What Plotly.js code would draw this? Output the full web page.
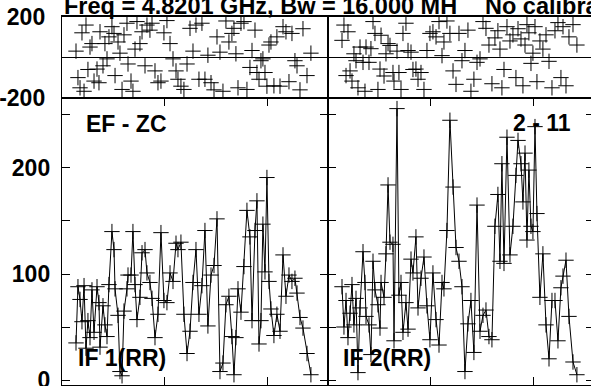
<!DOCTYPE html>
<html>
<head>
<meta charset="utf-8">
<script src="https://cdn.plot.ly/plotly-3.0.1.min.js"></script>
<style>
html,body{margin:0;padding:0;background:#fff;overflow:hidden;}
#chart{width:600px;height:386px;}
</style>
</head>
<body>
<div id="chart"></div>
<script>
// Time stamps (hours from start of plot window)
const times = [0.136,0.155,0.175,0.194,0.214,0.233,0.252,0.272,0.291,0.311,
0.340,0.359,0.369,0.398,0.417,0.437,0.456,0.485,0.505,0.515,
0.544,0.563,0.583,0.602,0.631,0.641,0.670,0.689,0.709,0.728,
0.757,0.777,0.806,0.825,0.854,0.874,0.903,0.932,0.961,0.990,
1.019,1.049,1.078,1.107,1.126,1.155,1.184,1.214,1.243,1.272,
1.301,1.330,1.359,1.388,1.417,1.447,1.476,1.505,1.534,1.563,
1.592,1.621,1.650,1.670,1.689,1.709,1.738,1.767,1.796,1.825,
1.845,1.874,1.893,1.913,1.932,1.951,1.971,1.990,2.010,2.029,
2.058,2.087,2.117,2.146,2.175,2.204,2.233,2.262,2.282,2.311,
2.340,2.379,2.417];

// Amplitudes
const ampIF1 = [35,88,76,55,89,30,56,40,85,45,
88,73,31,70,52,41,90,140,123,86,
61,8,4,65,86,99,99,140,90,57,
78,120,123,101,92,77,40,62,139,75,
73,101,93,129,123,130,62,25,46,92,
123,62,89,141,51,99,108,152,8,16,
71,79,41,5,40,86,64,107,160,135,
56,141,169,34,56,147,102,191,93,67,
42,62,46,118,79,99,93,96,82,59,
49,25,5];
const ampIF2 = [88,50,75,40,63,90,52,77,7,68,
121,92,60,52,24,112,85,71,49,92,
78,119,184,130,128,37,256,80,92,45,
73,48,114,101,135,68,96,116,70,38,
101,57,33,92,86,141,245,182,125,112,
88,8,53,75,26,165,46,61,66,41,
38,145,175,112,204,110,229,118,145,193,
226,204,168,214,132,198,145,140,239,157,
78,119,52,20,75,75,37,87,98,113,
60,17,5];

// Phases (degrees)
const phaseIF1 = [30,-100,-150,120,-167,158,-60,50,67,-117,
-58,-125,125,-42,67,-8,100,150,117,-90,
75,20,-158,110,167,-33,-117,-167,40,175,
67,125,-42,158,133,167,-67,-125,-117,120,
180,67,-8,-67,-108,-142,-158,-33,142,30,
158,-108,167,-108,10,-125,-160,100,25,-167,
178,75,117,142,17,-150,167,175,-158,-50,
33,133,-75,-108,-17,-8,-75,-142,60,75,
-140,100,-142,150,125,-120,117,-17,-42,-160,
140,-90,20];
const phaseIF2 = [83,158,-90,125,-67,-117,17,-17,-150,50,
-25,-167,50,-25,42,175,117,-158,-58,108,
-92,17,67,58,-75,-117,30,-75,-158,117,
167,33,25,-60,-58,-108,-75,-158,33,117,
125,100,175,8,75,178,117,-67,-133,117,
-17,33,133,-167,-108,-25,-8,175,142,60,
-130,95,130,40,-150,-60,150,80,110,-100,
140,90,-140,60,160,120,-30,20,150,-120,
80,40,110,-20,-150,130,170,-100,150,-140,
100,160,60];

const ampTicks = [0,50,100,150,200,250];
const ampTickText = ['0','','100','','200',''];
const phaseTicks = [-200,200];
const phaseTickText = ['-200','200'];
const xTicks = [0,1,2];

const titleLeft = 'Freq = 4.8201 GHz, Bw = 16.000 MH';
const titleRight = 'No calibration';
const baselineLabel = 'EF - ZC';
const sourceLabel = '2 - 11';
const ifLabels = ['IF 1(RR)','IF 2(RR)'];

const W = 600, H = 386;
const px = v => v / W;
const py = v => 1 - v / H;

const mk = {symbol:'cross-thin', size:11, color:'#000', line:{width:1, color:'#000'}};
const traces = [
  {x:times, y:ampIF1, xaxis:'x', yaxis:'y', mode:'lines+markers', line:{color:'#000', width:1}, marker:mk},
  {x:times, y:ampIF2, xaxis:'x2', yaxis:'y2', mode:'lines+markers', line:{color:'#000', width:1}, marker:mk},
  {x:times, y:phaseIF1, xaxis:'x3', yaxis:'y3', mode:'markers', marker:mk},
  {x:times, y:phaseIF2, xaxis:'x4', yaxis:'y4', mode:'markers', marker:mk}
];

const FONT = 'Liberation Sans, Arial, Helvetica, sans-serif';
const tickFont = {family:FONT, size:23, color:'#000', weight:'bold'};
const xRange = [0, 2.583];
const baseAx = {showline:true, linecolor:'#000', linewidth:1.2, mirror:'ticks', showgrid:false, zeroline:false,
  ticks:'inside', ticklen:8, tickwidth:1, tickcolor:'#000', ticklabeloverflow:'allow'};

const domL = [px(62), px(328)], domR = [px(328), px(594)];
const domBot = [py(385), py(98)], domTop = [py(98), py(16.5)];

const layout = {
  width:W, height:H, margin:{l:0,r:0,t:0,b:0},
  paper_bgcolor:'#fff', plot_bgcolor:'#fff', showlegend:false,
  xaxis: Object.assign({}, baseAx, {domain:domL, anchor:'y', range:xRange, tickvals:xTicks, showticklabels:false}),
  xaxis2: Object.assign({}, baseAx, {domain:domR, anchor:'y2', range:xRange, tickvals:xTicks, showticklabels:false}),
  xaxis3: Object.assign({}, baseAx, {domain:domL, anchor:'y3', range:xRange, ticks:'', showticklabels:false}),
  xaxis4: Object.assign({}, baseAx, {domain:domR, anchor:'y4', range:xRange, ticks:'', showticklabels:false}),
  yaxis: Object.assign({}, baseAx, {domain:domBot, anchor:'x', range:[-4.7,266], tickvals:ampTicks, ticktext:ampTickText, tickfont:tickFont, ticklabelstandoff:6}),
  yaxis2: Object.assign({}, baseAx, {domain:domBot, anchor:'x2', range:[-4.7,266], tickvals:ampTicks, showticklabels:false}),
  yaxis3: Object.assign({}, baseAx, {domain:domTop, anchor:'x3', range:[-200,200], tickvals:phaseTicks, ticktext:phaseTickText, ticks:'', tickfont:tickFont, ticklabelstandoff:11, zeroline:true, zerolinecolor:'#000', zerolinewidth:1.2}),
  yaxis4: Object.assign({}, baseAx, {domain:domTop, anchor:'x4', range:[-200,200], tickvals:phaseTicks, ticks:'', showticklabels:false, zeroline:true, zerolinecolor:'#000', zerolinewidth:1.2}),
  annotations: [
    {text:titleLeft, xref:'paper', yref:'paper', x:px(62), y:py(6), xanchor:'left', yanchor:'middle', showarrow:false, font:{family:FONT, size:23.5, color:'#000', weight:'bold'}},
    {text:titleRight, xref:'paper', yref:'paper', x:px(483), y:py(6), xanchor:'left', yanchor:'middle', showarrow:false, font:{family:FONT, size:23.5, color:'#000', weight:'bold'}},
    {text:baselineLabel, xref:'paper', yref:'paper', x:px(84), y:py(124), xanchor:'left', yanchor:'middle', showarrow:false, font:{family:FONT, size:23, color:'#000', weight:'bold'}},
    {text:sourceLabel, xref:'paper', yref:'paper', x:px(511), y:py(123), xanchor:'left', yanchor:'middle', showarrow:false, font:{family:FONT, size:23, color:'#000', weight:'bold'}},
    {text:ifLabels[0], xref:'paper', yref:'paper', x:px(76), y:py(358), xanchor:'left', yanchor:'middle', showarrow:false, font:{family:FONT, size:23, color:'#000', weight:'bold'}},
    {text:ifLabels[1], xref:'paper', yref:'paper', x:px(341), y:py(358), xanchor:'left', yanchor:'middle', showarrow:false, font:{family:FONT, size:23, color:'#000', weight:'bold'}}
  ]
};

Plotly.newPlot('chart', traces, layout, {displayModeBar:false, staticPlot:true});
</script>
</body>
</html>
